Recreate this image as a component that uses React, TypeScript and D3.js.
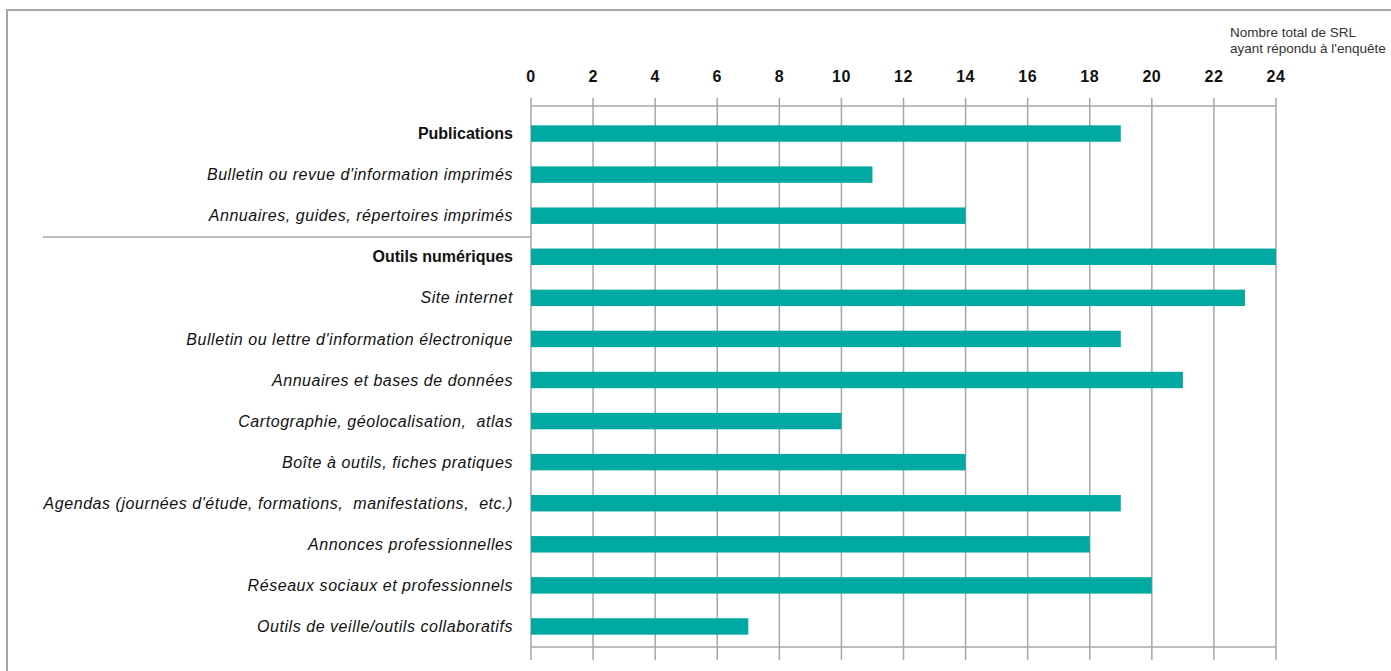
import React, { useEffect, useRef } from 'react';
import * as d3 from 'd3';

// Réponses des SRL par outil de communication
const categories = [
  'Publications',
  "Bulletin ou revue d'information imprimés",
  'Annuaires, guides, répertoires imprimés',
  'Outils numériques',
  'Site internet',
  "Bulletin ou lettre d'information électronique",
  'Annuaires et bases de données',
  'Cartographie, géolocalisation,  atlas',
  'Boîte à outils, fiches pratiques',
  "Agendas (journées d'étude, formations,  manifestations,  etc.)",
  'Annonces professionnelles',
  'Réseaux sociaux et professionnels',
  'Outils de veille/outils collaboratifs',
];
const values = [19, 11, 14, 24, 23, 19, 21, 10, 14, 19, 18, 20, 7];
const headers = ['Publications', 'Outils numériques'];
const ticks = [0, 2, 4, 6, 8, 10, 12, 14, 16, 18, 20, 22, 24];
const note = ['Nombre total de SRL', "ayant répondu à l'enquête"];

export default function App() {
  const svgRef = useRef<SVGSVGElement>(null);

  useEffect(() => {
    if (!svgRef.current) return;
    const svg = d3.select(svgRef.current);
    svg.selectAll('*').remove();

    const width = 1391;
    const height = 671;
    const gridColor = '#a6a6a6';
    const font = '"Liberation Sans", Arial, sans-serif';

    const x = d3.scaleLinear().domain([0, 24]).range([531, 1276]);
    const y = d3.scaleBand<string>()
      .domain(categories)
      .range([113, 647])
      .paddingInner(0.6)
      .paddingOuter(0.3);

    // frame (top and left only)
    svg.append('path')
      .attr('d', `M7,${height} V10 H${width}`)
      .attr('fill', 'none')
      .attr('stroke', gridColor)
      .attr('stroke-width', 2);

    // vertical grid lines
    svg.append('g')
      .selectAll('line')
      .data(ticks)
      .join('line')
      .attr('x1', d => x(d)).attr('x2', d => x(d))
      .attr('y1', 98).attr('y2', 660)
      .attr('stroke', gridColor)
      .attr('stroke-width', 1.5);

    // top and bottom axis lines
    [106, 647].forEach(yy => {
      svg.append('line')
        .attr('x1', x(0)).attr('x2', x(24))
        .attr('y1', yy).attr('y2', yy)
        .attr('stroke', gridColor)
        .attr('stroke-width', 1.5);
    });

    // tick labels
    svg.append('g')
      .selectAll('text')
      .data(ticks)
      .join('text')
      .attr('x', d => x(d))
      .attr('y', 82)
      .attr('text-anchor', 'middle')
      .attr('font-family', font)
      .attr('font-weight', 'bold')
      .attr('font-size', 16)
      .attr('letter-spacing', 0.5)
      .attr('fill', '#111')
      .text(d => d);

    // separator between the two groups
    svg.append('line')
      .attr('x1', 43).attr('x2', x(0))
      .attr('y1', 237).attr('y2', 237)
      .attr('stroke', gridColor)
      .attr('stroke-width', 1.5);

    // bars
    svg.append('g')
      .selectAll('rect')
      .data(categories)
      .join('rect')
      .attr('x', x(0))
      .attr('y', d => y(d)!)
      .attr('width', (d, i) => x(values[i]) - x(0))
      .attr('height', y.bandwidth())
      .attr('fill', '#00a9a1');

    // category labels
    svg.append('g')
      .selectAll('text')
      .data(categories)
      .join('text')
      .attr('x', 513)
      .attr('y', d => y(d)! + y.bandwidth() / 2)
      .attr('dy', '0.35em')
      .attr('text-anchor', 'end')
      .attr('font-family', font)
      .attr('font-size', 16)
      .attr('letter-spacing', d => (headers.includes(d) ? 0 : 0.55))
      .attr('font-style', d => (headers.includes(d) ? 'normal' : 'italic'))
      .attr('font-weight', d => (headers.includes(d) ? 'bold' : 'normal'))
      .style('white-space', 'pre')
      .attr('fill', '#111')
      .text(d => d);

    // note top right
    svg.append('g')
      .selectAll('text')
      .data(note)
      .join('text')
      .attr('x', 1230)
      .attr('y', (d, i) => 37 + i * 16)
      .attr('font-family', font)
      .attr('font-size', 13.5)
      .attr('fill', '#333')
      .text(d => d);
  }, []);

  return (
    <svg
      ref={svgRef}
      width={1391}
      height={671}
      style={{ position: 'absolute', left: 0, top: 0, background: '#fff' }}
    />
  );
}
